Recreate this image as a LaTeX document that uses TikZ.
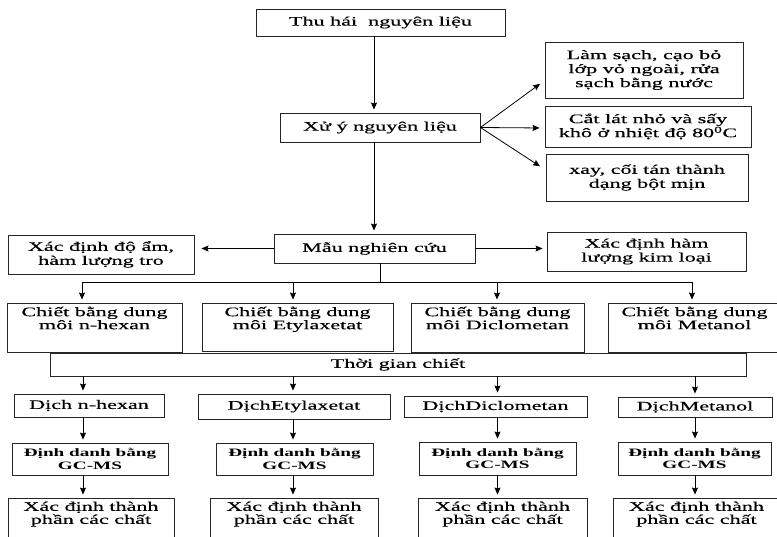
\documentclass[tikz,border=0pt]{standalone}
\usepackage{fontspec}
\setmainfont{Liberation Serif}[FakeStretch=1.7, UprightFeatures={FakeBold=0.4}]
\usepackage{tikz}
\usetikzlibrary{arrows.meta, positioning, calc}

\begin{document}
\begin{tikzpicture}[x=1pt, y=-1pt,
    box/.style={draw=black!85, line width=0.9pt, inner sep=0pt, align=center, font=\fontsize{13}{14}\selectfont},
    txt/.style={inner sep=0pt, align=center, font=\fontsize{13}{13}\selectfont},
    gcms/.style={box, font=\fontsize{11.3}{12.5}\selectfont\bfseries},
    arr/.style={-{Stealth[length=7pt, width=6pt, inset=1pt]}, line width=0.8pt, shorten >=3pt},
    ln/.style={line width=0.8pt}]
    \useasboundingbox (0,0) rectangle (777,537);
    \clip (0,0) rectangle (777,537);

    % Raw material
    \node[box, minimum width=249pt, minimum height=27pt] (thu) at (380.5,22.5) {Thu hái\ \ nguyên liệu};
    \node[box, minimum width=200pt, minimum height=29pt] (xu) at (380,127.5) {Xử ý nguyên liệu};

    % Pre-treatment
    \node[box, minimum width=198pt, minimum height=56pt] (lam) at (644,70) {Làm sạch, cạo bỏ\\lớp vỏ ngoài, rửa\\sạch bằng nước};
    \node[box, minimum width=206pt, minimum height=41pt] (cat) at (648,126.5) {Cắt lát nhỏ và sấy\\khô ở nhiệt độ 80\textsuperscript{0}C};
    \node[box, minimum width=202pt, minimum height=47pt] (xay) at (647,177.5) {xay, cối tán thành\\dạng bột mịn};

    % Sample
    \node[box, minimum width=201pt, minimum height=29pt] (mau) at (374.5,248.5) {Mẫu nghiên cứu};
    \node[box, minimum width=186pt, minimum height=39pt] (am) at (101,254.5) {Xác định độ ẩm,\\hàm lượng tro};
    \node[box, minimum width=199pt, minimum height=39pt] (kl) at (646.5,251.5) {Xác định hàm\\lượng kim loại};

    % Extraction with four solvents
    \node[box, minimum width=175pt, minimum height=49pt] (ch1) at (94.5,327.5) {};
    \node[box, minimum width=191pt, minimum height=48pt] (ch2) at (297.5,327) {};
    \node[box, minimum width=173pt, minimum height=49pt] (ch3) at (497.5,327.5) {};
    \node[box, minimum width=173pt, minimum height=49pt] (ch4) at (694.5,327.5) {};
    \node[txt, below=4pt of ch1.north] {Chiết bằng dung\\môi n-hexan};
    \node[txt, below=4pt of ch2.north] {Chiết bằng dung\\môi Etylaxetat};
    \node[txt, below=4pt of ch3.north] {Chiết bằng dung\\môi Diclometan};
    \node[txt, below=4pt of ch4.north] {Chiết bằng dung\\môi Metanol};

    % Extraction time
    \node[box, minimum width=696pt, minimum height=23pt] (tg) at (398,364.5) {Thời gian chiết};

    % Extracts
    \node[box, minimum width=150pt, minimum height=23pt] (d1) at (89,405.5) {Dịch n-hexan};
    \node[box, minimum width=192pt, minimum height=25pt] (d2) at (294,406.5) {DịchEtylaxetat};
    \node[box, minimum width=183pt, minimum height=21pt] (d3) at (495.5,406.5) {DịchDiclometan};
    \node[box, minimum width=154pt, minimum height=20pt] (d4) at (695,407) {DịchMetanol};

    % GC-MS
    \node[gcms, minimum width=156pt, minimum height=32pt] (g1) at (90,459) {Định danh bằng\\GC-MS};
    \node[gcms, minimum width=157pt, minimum height=32pt] (g2) at (294.5,459) {Định danh bằng\\GC-MS};
    \node[gcms, minimum width=157pt, minimum height=33pt] (g3) at (497.5,458.5) {Định danh bằng\\GC-MS};
    \node[gcms, minimum width=153pt, minimum height=33pt] (g4) at (694.5,458.5) {Định danh bằng\\GC-MS};

    % Composition
    \node[box, minimum width=166pt, minimum height=62pt] (x1) at (91,529) {};
    \node[box, minimum width=168pt, minimum height=62pt] (x2) at (294,529) {};
    \node[box, minimum width=169pt, minimum height=62pt] (x3) at (502.5,529) {};
    \node[box, minimum width=167pt, minimum height=62pt] (x4) at (696.5,529) {};
    \foreach \i in {1,...,4}
        \node[txt, below=4pt of x\i.north] {Xác định thành\\phần các chất};

    % Connectors
    \coordinate (spine) at (374,0);
    \coordinate (fork) at (380,282);
    \coordinate (b1) at (82,282);
    \coordinate (b2) at (293,282);
    \coordinate (b3) at (497,282);
    \coordinate (b4) at (692,282);
    \coordinate (col1) at (83,0);
    \coordinate (col2) at (293,0);
    \coordinate (col3) at (497.5,0);
    \coordinate (col4) at (695,0);

    \draw[arr] (thu.south -| spine) -- (xu.north -| spine);
    \draw[arr] (xu.south -| spine) -- (mau.north -| spine);
    \draw[arr] (xu.east) -- ([shift={(-2pt,-12pt)}]lam.west);
    \draw[arr] (xu.east) -- ([shift={(-2pt,-1.5pt)}]cat.west);
    \draw[arr] (xu.east) -- ([shift={(-3pt,9.5pt)}]xay.west);
    \draw[arr, shorten >=7pt] (mau.west) -- (am.east |- mau.west);
    \draw[arr, shorten >=4pt] (mau.east) -- (kl.west |- mau.east);

    \draw[ln] (mau.south -| fork) -- (fork);
    \draw[ln] (b1) -- (b4);
    \foreach \i in {1,...,4}
        \draw[arr] (b\i) -- (b\i |- ch\i.north);

    \foreach \i in {1,...,4} {
        \draw[arr] (tg.south -| col\i) -- (d\i.north -| col\i);
        \draw[arr] (d\i.south -| col\i) -- (g\i.north -| col\i);
        \draw[arr] (g\i.south -| col\i) -- (x\i.north -| col\i);
    }
\end{tikzpicture}
\end{document}
